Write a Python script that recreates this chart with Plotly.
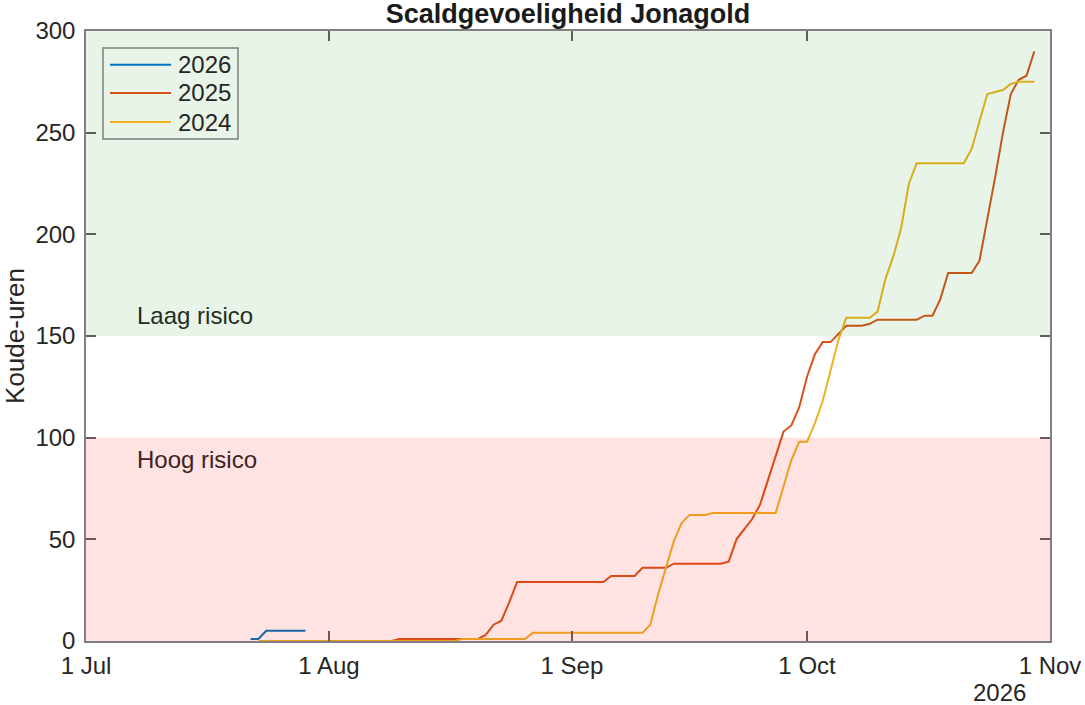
import pandas as pd
import plotly.graph_objects as go

# cumulatieve koude-uren per seizoen, alles op de as van 2026 gezet
start_2026 = "2026-07-22"
uren_2026 = [1, 1, 5, 5, 5, 5, 5, 5]

start_2025 = "2026-08-09"
uren_2025 = [0] + [1] * 11 + [3, 8, 10, 19] + [29] * 12 + [32] * 4 + [36] * 4 + [38] * 7 + [39] + \
    [50, 55, 60, 67, 79, 91, 103, 106, 115, 130, 141, 147, 147, 151, 155, 155, 155, 156] + \
    [158] * 6 + [160, 160, 168] + [181] * 4 + [187, 207, 228, 250, 269, 276, 278, 290]

start_2024 = "2026-07-23"
uren_2024 = [0] * 26 + [1] * 9 + [4] * 15 + [8, 23, 36, 49, 58, 62, 62, 62] + [63] * 9 + \
    [76, 89, 98, 98, 107, 118, 133, 148] + [159] * 4 + [162, 178, 189, 203, 225] + \
    [235] * 7 + [242, 256, 269, 270, 271, 274] + [275] * 3

seizoenen = ["2026", "2025", "2024"]
starts = [start_2026, start_2025, start_2024]
waarden = [uren_2026, uren_2025, uren_2024]
kleuren = ["#0072BD", "#D95319", "#EDB120"]

maand_ticks = ["2026-07-01", "2026-08-01", "2026-09-01", "2026-10-01", "2026-11-01"]
maand_labels = ["1 Jul", "1 Aug", "1 Sep", "1 Oct", "1 Nov"]

FONT = "Liberation Sans, Arial, sans-serif"

fig = go.Figure()
for naam, start, vals, kleur in zip(seizoenen, starts, waarden, kleuren):
    datums = pd.date_range(start, periods=len(vals), freq="D")
    fig.add_trace(go.Scatter(x=datums, y=vals, mode="lines", name=naam, showlegend=False,
                             line=dict(color=kleur, width=2)))

# risicozones (doorzichtig over de lijnen heen, zoals in het origineel)
fig.add_shape(type="rect", xref="x domain", yref="y", x0=0, x1=1, y0=0, y1=100,
              fillcolor="rgba(255,0,0,0.11)", line_width=0, layer="above")
fig.add_shape(type="rect", xref="x domain", yref="y", x0=0, x1=1, y0=150, y1=300,
              fillcolor="rgba(0,128,0,0.09)", line_width=0, layer="above")

fig.add_annotation(x="2026-07-07 06:00", y=160, text="Laag risico", showarrow=False,
                   xanchor="left", yanchor="middle", font=dict(size=24, color="#232e23"))
fig.add_annotation(x="2026-07-07 06:00", y=89.5, text="Hoog risico", showarrow=False,
                   xanchor="left", yanchor="middle", font=dict(size=24, color="#3e2222"))
fig.add_annotation(x=0.948, y=-0.085, xref="paper", yref="paper", text="2026",
                   showarrow=False, xanchor="center", yanchor="middle",
                   font=dict(size=24, color="#262626"))

# legenda met lange lijnstukken zoals in matlab
fig.add_shape(type="rect", xref="paper", yref="paper", x0=0.0176, x1=0.1577, y0=0.823, y1=0.9721,
              line=dict(color="#7a7f7a", width=1.5), fillcolor="rgba(0,0,0,0)", layer="above")
rij_y = [0.9448, 0.8984, 0.8508]
for naam, kleur, ry in zip(seizoenen, kleuren, rij_y):
    fig.add_shape(type="line", xref="paper", yref="paper", x0=0.0249, x1=0.0882, y0=ry, y1=ry,
                  line=dict(color=kleur, width=2), layer="above")
    fig.add_annotation(x=0.0934, y=ry, xref="paper", yref="paper", text=naam, showarrow=False,
                       xanchor="left", yanchor="middle", font=dict(size=24, color="#262626"))

fig.update_layout(
    width=1085, height=705,
    margin=dict(l=86, r=35, t=31, b=64),
    paper_bgcolor="white", plot_bgcolor="white",
    font=dict(family=FONT, size=24, color="#262626"),
    title=dict(text="<b>Scaldgevoeligheid Jonagold</b>", x=0.5235, xanchor="center",
               y=0.981, yanchor="middle", font=dict(size=27, color="#1a1a1a")),
    showlegend=False,
)
fig.update_xaxes(range=["2026-07-01", "2026-11-01"], tickvals=maand_ticks, ticktext=maand_labels,
                 showgrid=False, zeroline=False, showline=True, linecolor="#808080", linewidth=1.5,
                 mirror="ticks", ticks="inside", ticklen=10, tickcolor="#606060", tickwidth=1.5,
                 tickfont=dict(size=24, color="#262626"), automargin=False, ticklabelstandoff=2)
fig.update_yaxes(range=[0, 300], tickvals=[0, 50, 100, 150, 200, 250, 300],
                 showgrid=False, zeroline=False, showline=True, linecolor="#808080", linewidth=1.5,
                 mirror="ticks", ticks="inside", ticklen=10, tickcolor="#606060", tickwidth=1.5,
                 tickfont=dict(size=24, color="#262626"), automargin=False, ticklabelstandoff=4,
                 title=dict(text="Koude-uren", font=dict(size=26, color="#262626"), standoff=8))

# geen witrand van de pagina om de figuur, geen modebar
fig.write_html("out.html", config={"displayModeBar": False},
               post_script="document.body.style.margin='0';")
